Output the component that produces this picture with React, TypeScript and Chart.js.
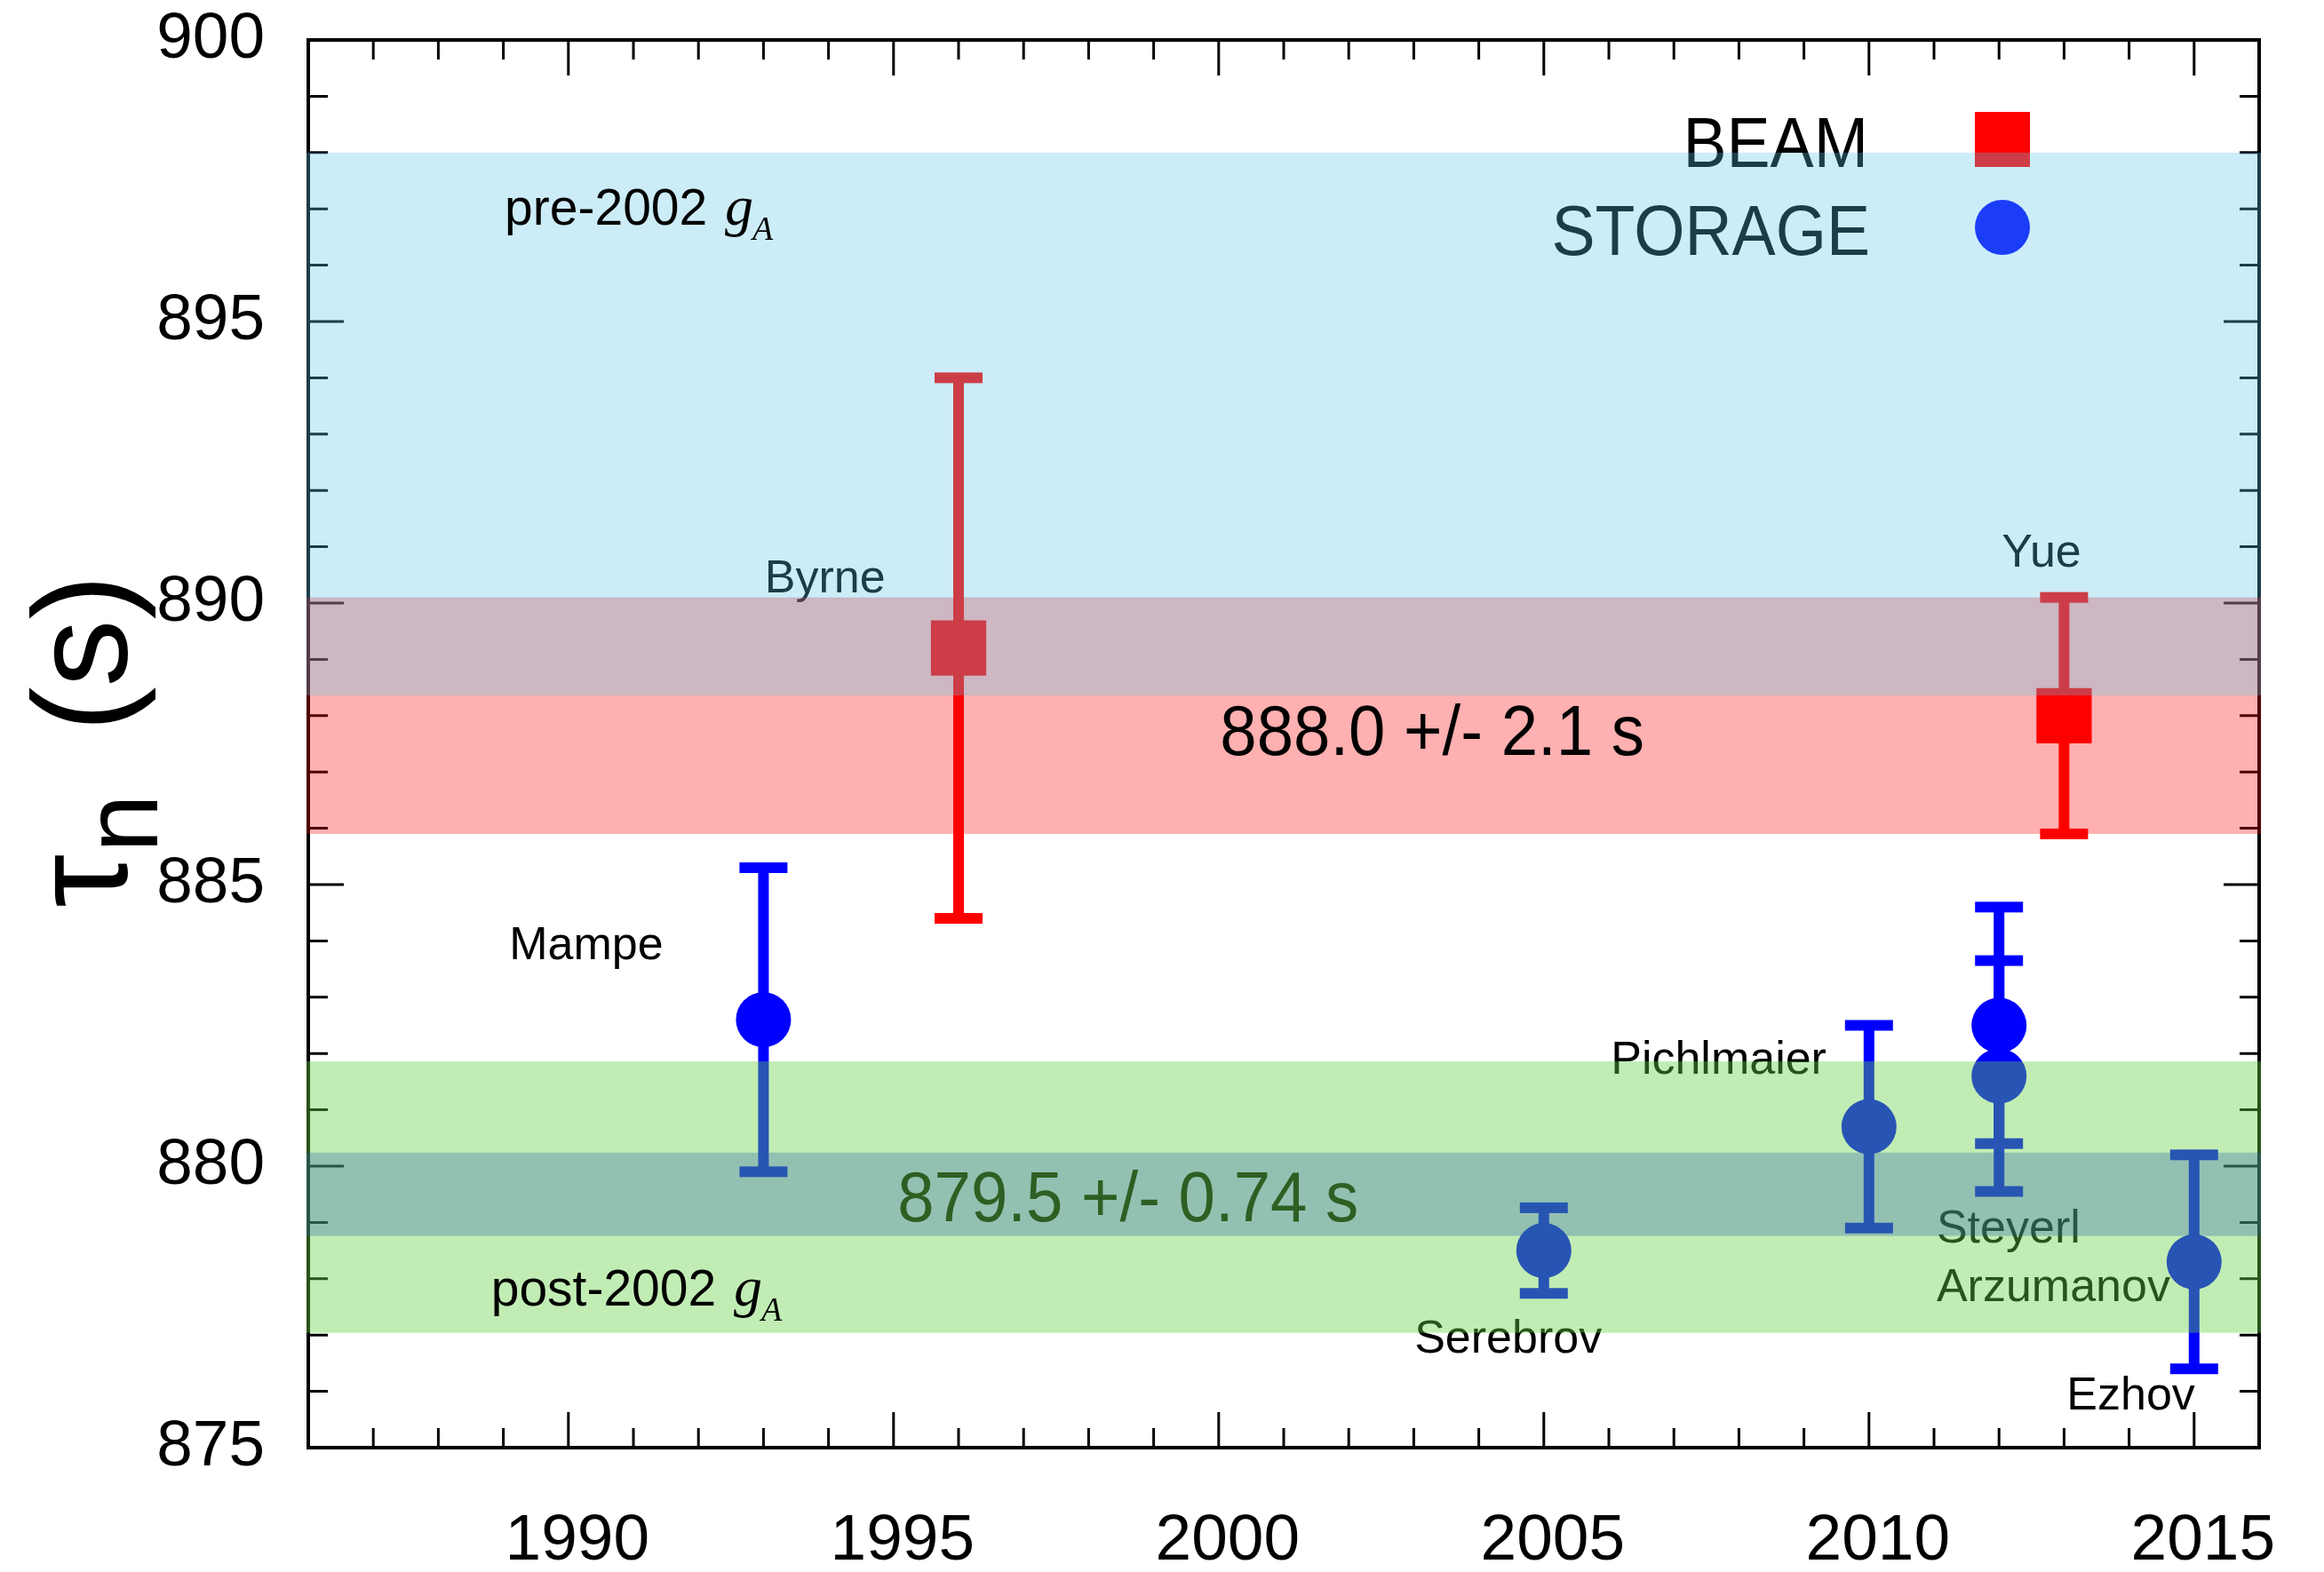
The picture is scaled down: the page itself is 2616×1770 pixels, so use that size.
import React, { useEffect, useRef } from 'react';
import { Chart, registerables } from 'chart.js';

Chart.register(...registerables);

// ---------------- data ----------------
const BEAM_YEARS = [1996, 2013];
const BEAM_TAU = [889.2, 888.0];
const BEAM_ERR = [4.8, 2.1];
const BEAM_NAMES = ['Byrne', 'Yue'];

const STORAGE_YEARS = [1993, 2005, 2010, 2012, 2012, 2015];
const STORAGE_TAU = [882.6, 878.5, 880.7, 882.5, 881.6, 878.3];
const STORAGE_ERR = [2.7, 0.76, 1.8, 2.1, 2.05, 1.9];
const STORAGE_NAMES = ['Mampe', 'Serebrov', 'Pichlmaier', 'Steyerl', 'Arzumanov', 'Ezhov'];

const X_TICKS = [1990, 1995, 2000, 2005, 2010, 2015];
const Y_TICKS = [875, 880, 885, 890, 895, 900];
const X_RANGE = [1986, 2016];
const Y_RANGE = [875, 900];

const BEAM_AVG = [888.0, 2.1];
const STORAGE_AVG = [879.5, 0.74];
const PRE_2002_BAND = [888.36, 898.0];
const POST_2002_BAND = [877.04, 881.86];

// label anchors (data coordinates: left edge, baseline)
const BEAM_NAME_AT = [[1993.02, 890.19], [2012.04, 890.65]];
const STORAGE_NAME_AT = [[1989.09, 883.68], [2003.01, 876.69], [2006.03, 881.64], [2011.04, 878.64], [2011.04, 877.6], [2013.04, 875.68]];
const BEAM_AVG_TEXT_AT = [2000.02, 887.3];
const STORAGE_AVG_TEXT_AT = [1995.06, 879.02];
const PRE_TEXT_AT = [1989.02, 896.72];
const POST_TEXT_AT = [1988.81, 877.52];

// ---------------- styles ----------------
const SANS = '"Liberation Sans", Arial, Helvetica, sans-serif';
const SERIF = '"Liberation Serif", "Times New Roman", serif';
const RED = '#ff0000';
const BLUE = '#0000ff';

function drawText(ctx: CanvasRenderingContext2D, str: string, x: number, y: number, font: string, color: string, scaleX = 1, align: CanvasTextAlign = 'left') {
  ctx.save();
  ctx.font = font;
  ctx.fillStyle = color;
  ctx.textBaseline = 'alphabetic';
  ctx.textAlign = align;
  ctx.translate(x, y);
  ctx.scale(scaleX, 1);
  ctx.fillText(str, 0, 0);
  ctx.restore();
}

function gA(ctx: CanvasRenderingContext2D, prefix: string, x: number, y: number) {
  ctx.save();
  ctx.font = `57px ${SANS}`;
  const w = ctx.measureText(prefix).width;
  ctx.restore();
  drawText(ctx, prefix, x, y, `57px ${SANS}`, '#000');
  const gx = x + w + 4;
  drawText(ctx, 'g', gx, y, `italic 64px ${SERIF}`, '#000');
  drawText(ctx, 'A', gx + 31, y + 17, `italic 38px ${SERIF}`, '#000');
}

const errorBarPlugin = {
  id: 'framesAndErrors',
  beforeDatasetsDraw(chart: any) {
    const ctx: CanvasRenderingContext2D = chart.ctx;
    const xs = chart.scales.x;
    const ys = chart.scales.y;
    const { left, right, top, bottom } = chart.chartArea;
    ctx.save();
    // inward ticks on all four sides
    ctx.strokeStyle = '#000';
    ctx.lineWidth = 3;
    ctx.beginPath();
    for (let v = X_RANGE[0] + 1; v < X_RANGE[1]; v++) {
      const len = X_TICKS.includes(v) ? 40 : 22;
      const px = xs.getPixelForValue(v);
      ctx.moveTo(px, bottom); ctx.lineTo(px, bottom - len);
      ctx.moveTo(px, top); ctx.lineTo(px, top + len);
    }
    for (let v = Y_RANGE[0] + 1; v < Y_RANGE[1]; v++) {
      const len = Y_TICKS.includes(v) ? 40 : 22;
      const py = ys.getPixelForValue(v);
      ctx.moveTo(left, py); ctx.lineTo(left + len, py);
      ctx.moveTo(right, py); ctx.lineTo(right - len, py);
    }
    ctx.stroke();
    ctx.lineWidth = 4;
    ctx.strokeRect(left, top, right - left, bottom - top);

    // error bars
    const series = [
      { xsv: BEAM_YEARS, v: BEAM_TAU, e: BEAM_ERR, c: RED },
      { xsv: STORAGE_YEARS, v: STORAGE_TAU, e: STORAGE_ERR, c: BLUE },
    ];
    for (const s of series) {
      ctx.strokeStyle = s.c;
      ctx.fillStyle = s.c;
      ctx.lineWidth = 12;
      s.v.forEach((val, i) => {
        const px = xs.getPixelForValue(s.xsv[i]);
        const y1 = ys.getPixelForValue(val + s.e[i]);
        const y2 = ys.getPixelForValue(val - s.e[i]);
        ctx.beginPath();
        ctx.moveTo(px, y1); ctx.lineTo(px, y2);
        ctx.stroke();
        ctx.fillRect(px - 27, y1 - 6, 54, 12);
        ctx.fillRect(px - 27, y2 - 6, 54, 12);
      });
    }
    ctx.restore();
  },
  afterDatasetsDraw(chart: any) {
    const ctx: CanvasRenderingContext2D = chart.ctx;
    const xs = chart.scales.x;
    const ys = chart.scales.y;
    const { right, top } = chart.chartArea;
    const nameFont = `52px ${SANS}`;
    BEAM_NAMES.forEach((n, i) => drawText(ctx, n, xs.getPixelForValue(BEAM_NAME_AT[i][0]), ys.getPixelForValue(BEAM_NAME_AT[i][1]), nameFont, '#000'));
    STORAGE_NAMES.forEach((n, i) => drawText(ctx, n, xs.getPixelForValue(STORAGE_NAME_AT[i][0]), ys.getPixelForValue(STORAGE_NAME_AT[i][1]), nameFont, '#000'));

    // legend
    const legFont = `80px ${SANS}`;
    drawText(ctx, 'BEAM', right - 440, top + 143, legFont, '#000', 0.92, 'right');
    drawText(ctx, 'STORAGE', right - 438, top + 242, legFont, '#000', 0.92, 'right');
    ctx.save();
    ctx.fillStyle = RED;
    ctx.fillRect(right - 289 - 31, top + 112 - 31, 62, 62);
    ctx.fillStyle = BLUE;
    ctx.beginPath();
    ctx.arc(right - 289, top + 211, 31, 0, Math.PI * 2);
    ctx.fill();
    ctx.restore();

    // y axis title
    ctx.save();
    ctx.translate(143, 1022);
    ctx.rotate(-Math.PI / 2);
    ctx.fillStyle = '#000';
    ctx.textBaseline = 'alphabetic';
    ctx.font = `152px ${SANS}`;
    ctx.fillText('\u03C4', 0, 0);
    const tw = ctx.measureText('\u03C4').width;
    ctx.font = `118px ${SANS}`;
    ctx.fillText('n', tw + 2, 34);
    ctx.font = `152px ${SANS}`;
    ctx.fillText('(s)', 198, 0);
    ctx.restore();
  },
  afterDraw(chart: any) {
    const ctx: CanvasRenderingContext2D = chart.ctx;
    const xs = chart.scales.x;
    const ys = chart.scales.y;
    const { left, right } = chart.chartArea;
    const band = (lo: number, hi: number, color: string) => {
      const y1 = ys.getPixelForValue(hi);
      const y2 = ys.getPixelForValue(lo);
      ctx.fillStyle = color;
      ctx.fillRect(left - 2, y1, right - left + 4, y2 - y1);
    };
    ctx.save();
    band(POST_2002_BAND[0], POST_2002_BAND[1], 'rgba(100,210,68,0.4)');
    band(STORAGE_AVG[0] - STORAGE_AVG[1], STORAGE_AVG[0] + STORAGE_AVG[1], 'rgba(40,93,177,0.3)');
    band(BEAM_AVG[0] - BEAM_AVG[1], BEAM_AVG[0] + BEAM_AVG[1], 'rgba(255,0,0,0.31)');
    band(PRE_2002_BAND[0], PRE_2002_BAND[1], 'rgba(90,197,232,0.31)');
    ctx.restore();

    gA(ctx, 'pre-2002 ', xs.getPixelForValue(PRE_TEXT_AT[0]), ys.getPixelForValue(PRE_TEXT_AT[1]));
    gA(ctx, 'post-2002 ', xs.getPixelForValue(POST_TEXT_AT[0]), ys.getPixelForValue(POST_TEXT_AT[1]));

    const avgFont = `80px ${SANS}`;
    drawText(ctx, `${BEAM_AVG[0].toFixed(1)} +/- ${BEAM_AVG[1]} s`, xs.getPixelForValue(BEAM_AVG_TEXT_AT[0]), ys.getPixelForValue(BEAM_AVG_TEXT_AT[1]), avgFont, '#000', 0.93);
    drawText(ctx, `${STORAGE_AVG[0]} +/- ${STORAGE_AVG[1]} s`, xs.getPixelForValue(STORAGE_AVG_TEXT_AT[0]), ys.getPixelForValue(STORAGE_AVG_TEXT_AT[1]), avgFont, '#2e5f22', 0.93);
  },
};

export default function App() {
  const ref = useRef<HTMLCanvasElement>(null);
  useEffect(() => {
    const canvas = ref.current;
    if (!canvas) return;
    const tickFont = { family: SANS, size: 73 };
    const chart = new Chart(canvas, {
      type: 'scatter',
      data: {
        datasets: [
          {
            label: 'BEAM',
            data: BEAM_YEARS.map((x, i) => ({ x, y: BEAM_TAU[i] })),
            pointStyle: 'rect',
            pointRadius: 44,
            pointHoverRadius: 44,
            backgroundColor: RED,
            borderWidth: 0,
          },
          {
            label: 'STORAGE',
            data: STORAGE_YEARS.map((x, i) => ({ x, y: STORAGE_TAU[i] })),
            pointStyle: 'circle',
            pointRadius: 31,
            pointHoverRadius: 31,
            backgroundColor: BLUE,
            borderWidth: 0,
          },
        ],
      },
      options: {
        responsive: false,
        animation: false,
        devicePixelRatio: 1,
        events: [],
        layout: { padding: { top: 45, right: 73, left: 0, bottom: 0 }, autoPadding: false },
        plugins: { legend: { display: false }, tooltip: { enabled: false } },
        scales: {
          x: {
            type: 'linear',
            min: X_RANGE[0],
            max: X_RANGE[1],
            grid: { display: false, drawTicks: false, tickLength: 0 },
            border: { display: false },
            ticks: { font: tickFont, color: '#000', padding: 62, labelOffset: 10, autoSkip: false, maxRotation: 0, callback: (v: any) => String(v) },
            afterBuildTicks: (s: any) => { s.ticks = X_TICKS.map((v) => ({ value: v })); },
            afterFit: (s: any) => { s.height = 140; s.paddingLeft = 0; s.paddingRight = 0; s.paddingTop = 0; s.paddingBottom = 0; },
          },
          y: {
            type: 'linear',
            min: Y_RANGE[0],
            max: Y_RANGE[1],
            grid: { display: false, drawTicks: false, tickLength: 0 },
            border: { display: false },
            ticks: { font: tickFont, color: '#000', padding: 49, autoSkip: false, callback: (v: any) => String(v) },
            afterBuildTicks: (s: any) => { s.ticks = Y_TICKS.map((v) => ({ value: v })); },
            afterFit: (s: any) => { s.width = 347; s.paddingLeft = 0; s.paddingRight = 0; s.paddingTop = 0; s.paddingBottom = 0; },
          },
        },
      } as any,
      plugins: [errorBarPlugin],
    });
    return () => chart.destroy();
  }, []);
  return (
    <div style={{ position: 'absolute', left: 0, top: 0, width: 2616, height: 1770, background: '#fff' }}>
      <canvas ref={ref} width={2616} height={1770} style={{ display: 'block' }} />
    </div>
  );
}
